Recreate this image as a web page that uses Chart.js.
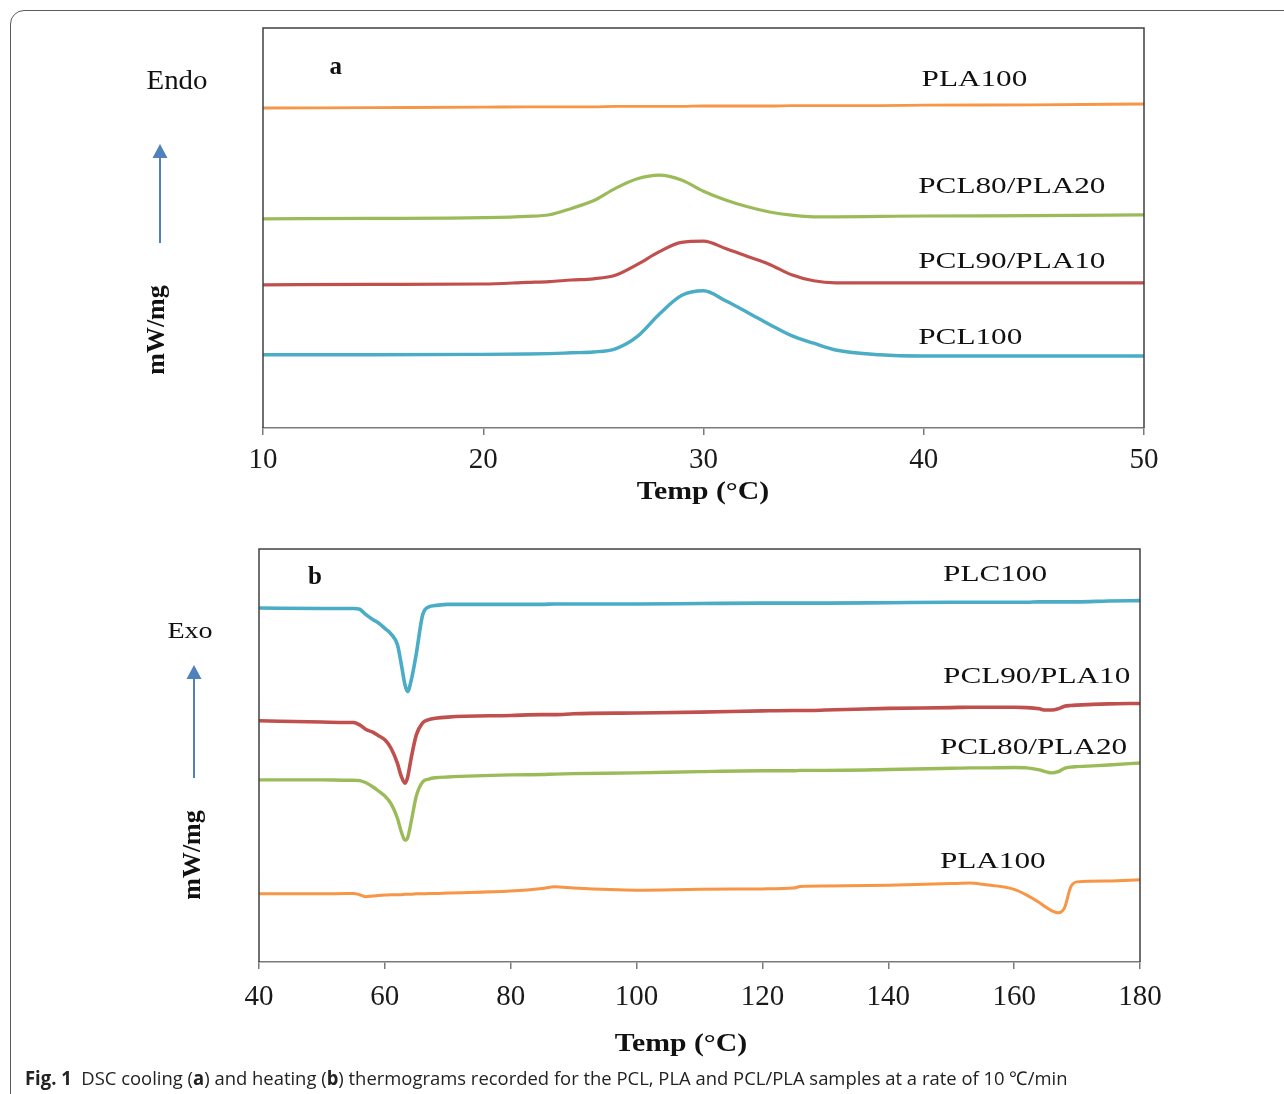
<!DOCTYPE html>
<html>
<head>
<meta charset="utf-8">
<script src="https://cdn.jsdelivr.net/npm/chart.js@4.4.1/dist/chart.umd.min.js"></script>
<style>
  body { margin: 0; background: #fff; width: 1284px; height: 1094px; overflow: hidden; position: relative; }
  #frame { position: absolute; left: 10px; top: 10px; width: 1330px; height: 1130px; border: 1.5px solid #5a5a5a; border-radius: 14px; box-sizing: border-box; }
  canvas { position: absolute; left: 0; }
  #cool { top: 0; }
  #heat { top: 520px; }
  #caption { position: absolute; left: 25px; top: 1065px; font-family: "Open Sans", sans-serif; font-size: 19px; color: #222; white-space: nowrap; transform: scaleX(0.97); transform-origin: left top; }
</style>
</head>
<body>
<div id="frame"></div>
<canvas id="cool" width="1284" height="515"></canvas>
<canvas id="heat" width="1284" height="550"></canvas>
<div id="caption"><b>Fig. 1</b>&nbsp; DSC cooling (<b>a</b>) and heating (<b>b</b>) thermograms recorded for the PCL, PLA and PCL/PLA samples at a rate of 10 ℃/min</div>
<script>
// (a) cooling, temperature in °C, heat flow in shifted arbitrary units
const coolTemp = [10, 15, 20, 22, 23, 24, 25, 26, 27, 28, 29, 30, 31, 32, 33, 34, 35, 36, 38, 40, 45, 50];
const coolPLA100 = [8.00, 8.01, 8.02, 8.03, 8.03, 8.03, 8.03, 8.04, 8.04, 8.04, 8.04, 8.05, 8.05, 8.05, 8.05, 8.06, 8.06, 8.06, 8.06, 8.07, 8.08, 8.10];
const coolPCL80 = [5.23, 5.24, 5.26, 5.29, 5.33, 5.49, 5.68, 5.99, 6.23, 6.32, 6.20, 5.92, 5.70, 5.53, 5.40, 5.32, 5.28, 5.28, 5.29, 5.30, 5.31, 5.33];
const coolPCL90 = [3.58, 3.59, 3.60, 3.64, 3.66, 3.70, 3.73, 3.82, 4.09, 4.41, 4.64, 4.67, 4.49, 4.29, 4.09, 3.83, 3.68, 3.63, 3.63, 3.63, 3.63, 3.63];
const coolPCL100 = [1.83, 1.83, 1.84, 1.85, 1.86, 1.88, 1.90, 1.98, 2.29, 2.85, 3.31, 3.43, 3.18, 2.89, 2.59, 2.31, 2.12, 1.95, 1.83, 1.80, 1.80, 1.80];
const coolTicks = [10, 20, 30, 40, 50];

// (b) heating
const heatTemp = [40, 50, 54, 55, 56, 57, 58, 59, 60, 61, 62, 62.6, 63.2, 63.6, 64.2, 65, 66, 67, 68, 70, 80, 85, 87, 90, 100, 110, 120, 125, 126, 130, 140, 150, 153, 155, 160, 162, 164, 165, 166, 167, 168, 169, 170, 175, 180];
const heatPCL100 = [8.57, 8.56, 8.56, 8.56, 8.54, 8.41, 8.30, 8.21, 8.08, 7.94, 7.68, 7.22, 6.71, 6.55, 6.83, 7.47, 8.40, 8.60, 8.63, 8.66, 8.66, 8.66, 8.67, 8.67, 8.67, 8.68, 8.69, 8.69, 8.69, 8.69, 8.70, 8.71, 8.71, 8.71, 8.71, 8.71, 8.72, 8.72, 8.72, 8.72, 8.72, 8.72, 8.72, 8.74, 8.75];
const heatPCL90 = [5.84, 5.81, 5.80, 5.80, 5.74, 5.63, 5.57, 5.48, 5.38, 5.17, 4.81, 4.50, 4.33, 4.46, 4.95, 5.50, 5.79, 5.87, 5.90, 5.93, 5.97, 5.99, 5.99, 6.01, 6.03, 6.05, 6.08, 6.09, 6.09, 6.10, 6.14, 6.16, 6.17, 6.17, 6.17, 6.16, 6.13, 6.10, 6.10, 6.13, 6.19, 6.21, 6.22, 6.25, 6.26];
const heatPCL80 = [4.41, 4.41, 4.40, 4.40, 4.39, 4.34, 4.25, 4.14, 4.02, 3.83, 3.48, 3.16, 2.95, 3.00, 3.41, 4.02, 4.36, 4.43, 4.46, 4.48, 4.53, 4.54, 4.55, 4.56, 4.58, 4.61, 4.63, 4.63, 4.64, 4.64, 4.66, 4.69, 4.70, 4.70, 4.71, 4.70, 4.65, 4.61, 4.58, 4.61, 4.69, 4.72, 4.73, 4.77, 4.82];
const heatPLA100 = [1.65, 1.65, 1.66, 1.66, 1.63, 1.58, 1.60, 1.61, 1.62, 1.63, 1.63, 1.63, 1.64, 1.64, 1.64, 1.65, 1.65, 1.66, 1.66, 1.67, 1.72, 1.78, 1.82, 1.79, 1.74, 1.76, 1.77, 1.79, 1.83, 1.84, 1.86, 1.90, 1.91, 1.88, 1.76, 1.62, 1.44, 1.33, 1.24, 1.19, 1.31, 1.82, 1.94, 1.96, 1.99];
const heatTicks = [40, 60, 80, 100, 120, 140, 160, 180];

// curve labels: text, temperature where it starts, level
const coolLabels = ["PLA100", "PCL80/PLA20", "PCL90/PLA10", "PCL100"];
const coolLabelTemp = [39.9, 39.75, 39.75, 39.75];
const coolLabelLevel = [8.70, 6.03, 4.15, 2.25];
const heatLabels = ["PLC100", "PCL90/PLA10", "PCL80/PLA20", "PLA100"];
const heatLabelTemp = [148.7, 148.7, 148.2, 148.2];
const heatLabelLevel = [9.37, 6.92, 5.20, 2.44];

const ORANGE = "#F79646", GREEN = "#9BBB59", RED = "#C0504D", BLUE = "#4BACC6", ARROW = "#4F81BD";
const SERIF = '"Liberation Serif", "Times New Roman", serif';

function series(label, temps, values, color, width) {
  return {
    label: label,
    data: temps.map((t, i) => ({ x: t, y: values[i] })),
    borderColor: color,
    borderWidth: width,
    pointRadius: 0,
    cubicInterpolationMode: "monotone",
    fill: false,
  };
}

function drawText(ctx, t) {
  ctx.save();
  ctx.font = t.font;
  ctx.fillStyle = "#111";
  ctx.textAlign = t.align || "center";
  ctx.textBaseline = "middle";
  ctx.translate(t.x, t.y);
  if (t.rotate) ctx.rotate(t.rotate);
  ctx.scale(t.stretch || 1, 1);
  ctx.fillText(t.text, 0, 0);
  ctx.restore();
}

function drawArrow(ctx, x, yTop, yBottom) {
  ctx.save();
  ctx.strokeStyle = ARROW;
  ctx.fillStyle = ARROW;
  ctx.lineWidth = 2;
  ctx.beginPath();
  ctx.moveTo(x, yBottom);
  ctx.lineTo(x, yTop + 12);
  ctx.stroke();
  ctx.beginPath();
  ctx.moveTo(x, yTop);
  ctx.lineTo(x - 7.5, yTop + 14);
  ctx.lineTo(x + 7.5, yTop + 14);
  ctx.closePath();
  ctx.fill();
  ctx.restore();
}

// frame round the plot, labels and side notes
const notes = {
  id: "notes",
  afterDraw(chart, args, o) {
    const ctx = chart.ctx, a = chart.chartArea;
    const xs = chart.scales.x, ys = chart.scales.y;
    ctx.save();
    ctx.strokeStyle = "#404040";
    ctx.lineWidth = 1.5;
    ctx.beginPath();
    ctx.moveTo(a.left, a.bottom);
    ctx.lineTo(a.left, a.top);
    ctx.lineTo(a.right, a.top);
    ctx.lineTo(a.right, a.bottom);
    ctx.stroke();
    ctx.restore();

    o.labels.forEach((txt, i) => {
      drawText(ctx, { text: txt, x: xs.getPixelForValue(o.labelTemp[i]), y: ys.getPixelForValue(o.labelLevel[i]),
        font: "24px " + SERIF, align: "left", stretch: 1.3 });
    });
    drawText(ctx, { text: o.panel, x: xs.getPixelForValue(o.panelAt[0]), y: ys.getPixelForValue(o.panelAt[1]),
      font: "bold 25px " + SERIF });
    drawText(ctx, { text: o.side, x: o.sideX, y: o.sideY, font: o.sideFont, stretch: o.sideStretch });
    drawArrow(ctx, o.arrowX, o.arrowTop, o.arrowBottom);
    drawText(ctx, { text: "mW/mg", x: o.unitX, y: o.unitY, font: "bold 26px " + SERIF, rotate: -Math.PI / 2 });
    drawText(ctx, { text: "Temp (°C)", x: o.titleX, y: o.titleY, font: "bold 25px " + SERIF, stretch: 1.19 });
  }
};

function xScale(min, max, ticks, height, pad) {
  return {
    type: "linear",
    min: min,
    max: max,
    afterBuildTicks: (s) => { s.ticks = ticks.map((v) => ({ value: v })); },
    afterFit: (s) => { s.height = height; },
    border: { display: true, color: "#7a7a7a", width: 1.5 },
    grid: { drawOnChartArea: false, drawTicks: true, tickLength: 7, color: "#7a7a7a", lineWidth: 1.5 },
    ticks: { color: "#1a1a1a", padding: pad, maxRotation: 0, autoSkip: false, font: { family: SERIF, size: 29 } },
  };
}

function makeChart(id, datasets, x, padding, noteOpts) {
  return new Chart(document.getElementById(id), {
    type: "line",
    data: { datasets: datasets },
    options: {
      responsive: false,
      animation: false,
      layout: { padding: padding },
      plugins: { legend: { display: false }, tooltip: { enabled: false }, notes: noteOpts },
      scales: { x: x, y: { display: false, min: 0, max: 10 } },
    },
    plugins: [notes],
  });
}

makeChart("cool", [
  series("PLA100", coolTemp, coolPLA100, ORANGE, 2.8),
  series("PCL80/PLA20", coolTemp, coolPCL80, GREEN, 3.2),
  series("PCL90/PLA10", coolTemp, coolPCL90, RED, 3.2),
  series("PCL100", coolTemp, coolPCL100, BLUE, 3.4),
], xScale(10, 50, coolTicks, 87, 8), { left: 263, right: 140, top: 28, bottom: 0 }, {
  labels: coolLabels, labelTemp: coolLabelTemp, labelLevel: coolLabelLevel,
  panel: "a", panelAt: [13.3, 9.0],
  side: "Endo", sideX: 177, sideY: 82, sideFont: "27px " + SERIF, sideStretch: 1.07,
  arrowX: 160, arrowTop: 144, arrowBottom: 243,
  unitX: 157, unitY: 330, titleX: 703, titleY: 493,
});

makeChart("heat", [
  series("PCL100", heatTemp, heatPCL100, BLUE, 3.6),
  series("PCL90/PLA10", heatTemp, heatPCL90, RED, 3.6),
  series("PCL80/PLA20", heatTemp, heatPCL80, GREEN, 3.4),
  series("PLA100", heatTemp, heatPLA100, ORANGE, 3),
], xScale(40, 180, heatTicks, 108, 11), { left: 259, right: 144, top: 29, bottom: 0 }, {
  labels: heatLabels, labelTemp: heatLabelTemp, labelLevel: heatLabelLevel,
  panel: "b", panelAt: [48.9, 9.3],
  side: "Exo", sideX: 190, sideY: 112, sideFont: "24px " + SERIF, sideStretch: 1.17,
  arrowX: 194, arrowTop: 145, arrowBottom: 258,
  unitX: 193, unitY: 335, titleX: 681, titleY: 525,
});
</script>
</body>
</html>
